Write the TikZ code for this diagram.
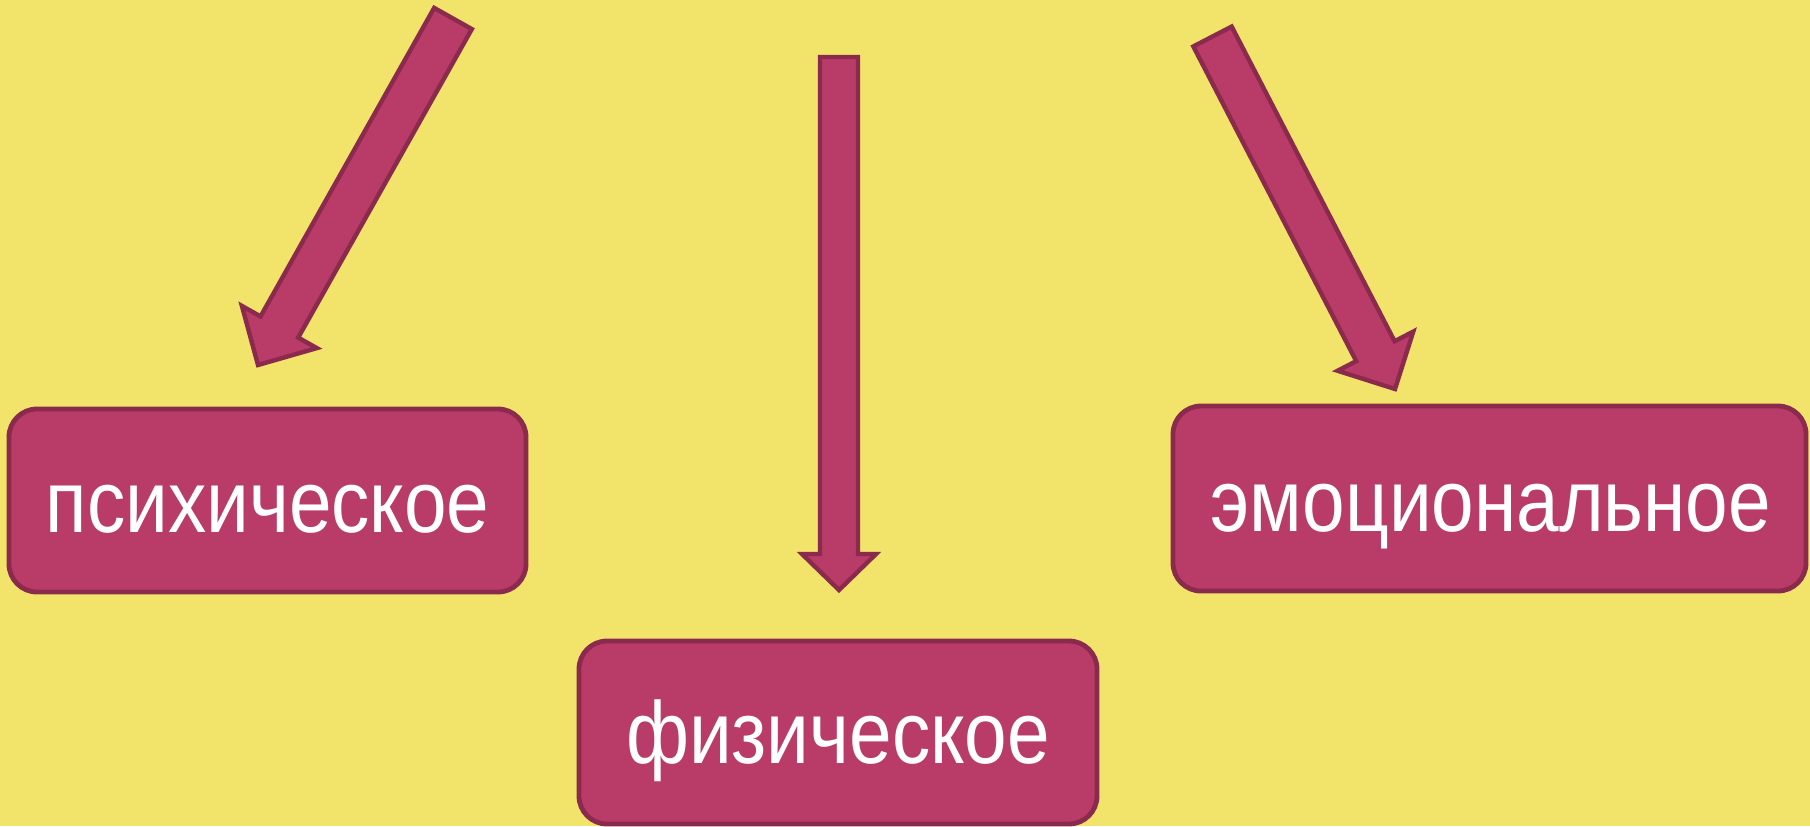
\documentclass[tikz,border=0pt]{standalone}
\usepackage{fontspec}
\setmainfont{Liberation Sans}
\newfontfamily\lblfont[FakeStretch=0.87]{Liberation Sans}
\usetikzlibrary{calc}
\definecolor{bgyellow}{HTML}{F2E36A}
\definecolor{boxfill}{HTML}{B93B67}
\definecolor{boxline}{HTML}{8A2A4D}
\tikzset{
  box/.style={draw=boxline, fill=boxfill, line width=2.4pt, rounded corners=14pt},
  lbl/.style={text=white, font=\lblfont\fontsize{44}{50}\selectfont, anchor=base, inner sep=0pt},
  arr/.style={draw=boxline, fill=boxfill, line width=2.2pt, line join=miter}
}
% #1 tail, #2 tip, #3 half shaft width, #4 half head width, #5 head length
\newcommand{\fatarrow}[5]{%
  \path ($(#2)!#5!(#1)$) coordinate (#2-b);
  \draw[arr] ($(#1)!#3!90:(#2)$) -- ($(#2-b)!#3!90:(#2)$) -- ($(#2-b)!#4!90:(#2)$)
    -- (#2) -- ($(#2-b)!#4!-90:(#2)$) -- ($(#2-b)!#3!-90:(#2)$) -- ($(#1)!#3!-90:(#2)$) -- cycle;}
\begin{document}
\begin{tikzpicture}[x=0.5pt, y=-0.5pt]
  \fill[bgyellow] (0,0) rectangle (1810,826);
  \useasboundingbox (0,0) rectangle (1810,826);
  % boxes
  \draw[box] (9,409) rectangle (526,592);
  \node[lbl] (psy) at (267.5,532) {психическое};
  \draw[box] (579,641) rectangle (1097,824);
  \node[lbl] (phys) at (838,763) {физическое};
  \draw[box] (1173,406) rectangle (1806,591);
  \node[lbl] (emo) at (1491,531) {эмоциональное};
  % arrows
  \coordinate (t1) at (453,18.5);
  \coordinate (h1) at (258,365);
  \coordinate (t2) at (839,57);
  \coordinate (h2) at (839,590);
  \coordinate (t3) at (1212.5,36.5);
  \coordinate (h3) at (1395,389);
  \fatarrow{t1}{h1}{10.8pt}{21.5pt}{21.8pt}
  \fatarrow{t2}{h2}{9.5pt}{18.5pt}{18pt}
  \fatarrow{t3}{h3}{10.8pt}{21.3pt}{21.3pt}
\end{tikzpicture}
\end{document}
